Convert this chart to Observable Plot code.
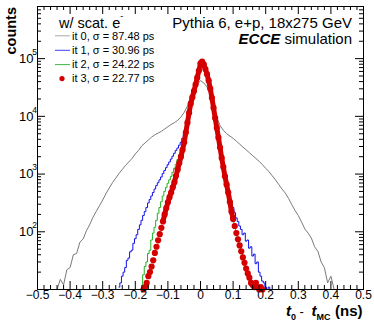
<!DOCTYPE html>
<html><head><meta charset="utf-8">
<script src="https://cdn.jsdelivr.net/npm/d3@7"></script>
<script src="https://cdn.jsdelivr.net/npm/@observablehq/plot@0.6"></script>
<style>
body{margin:0;background:#fff;}
#chart{width:374px;height:322px;}
</style></head><body><div id="chart"></div>
<script>
// ---- data ----
const xTicks = [-0.5,-0.4,-0.3,-0.2,-0.1,0,0.1,0.2,0.3,0.4,0.5];
const xTickLabels = ["\u22120.5","\u22120.4","\u22120.3","\u22120.2","\u22120.1","0","0.1","0.2","0.3","0.4","0.5"];
const yTicks = [1e2,1e3,1e4,1e5];
const yTickExp = ["2","3","4","5"];

const seriesLabels = ["it 0, \u03c3 = 87.48 ps","it 1, \u03c3 = 30.96 ps","it 2, \u03c3 = 24.22 ps","it 3, \u03c3 = 22.77 ps"];

// it 0 : bins of 0.01 ns starting at -0.44
const it0Start = -0.44, it0Width = 0.01;
const it0Counts = [10,15,12,22,24,40,42,66,75,104,
  132,178,224,282,355,457,575,708,851,1020,
  1200,1410,1620,1860,2240,2570,3090,3470,3890,4370,
  4790,5130,5500,6030,6610,7240,7760,8510,9770,11700,
  15100,20900,27500,35500,
  41700,38000,32400,24000,15800,9550,6920,5750,5010,4570,
  4170,3720,3310,2950,2630,2340,2090,1860,1660,1450,
  1260,1100,933,794,661,550,468,380,295,234,
  191,148,112,95,78,55,46,30,24,13,17,10];

// it 1 : bins of 0.005 ns starting at -0.25
const it1Start = -0.25, it1Width = 0.005;
const it1Counts = [11,13,17,20,24,32,35,45,48,63,
  76,89,110,132,158,191,224,263,316,363,
  417,479,550,631,708,794,891,1020,1150,1290,
  1450,1620,1820,2040,2290,2570,2820,3160,3550,4170,
  5010,6310,8320,11200,15800,20900,26900,33900,43600,56200,
  72400,79400,72400,60300,49000,38000,28200,20000,13500,9120,
  6310,4370,3020,2040,1450,1020,759,575,427,331,
  263,214,174,151,126,110,89,95,69,72,
  52,55,38,41,28,30,20,17,14,13,
  11,10,11,10];

// it 2 : bins of 0.005 ns starting at -0.18
const it2Start = -0.18, it2Width = 0.005;
const it2Counts = [10,18,25,30,42,48,72,95,120,158,
  209,263,331,417,501,589,692,794,912,1070,
  1260,1480,1780,2140,2630,3310,4170,5750,8130,11700,
  16600,21400,27500,35500,46800,60300,
  80000,85000,77600,64600,52500,40700,29500,20400,13800,9330,
  6310,4270,2880,1950,1350,933,676,490,347,240,
  178,135,105,81,63,50,40,32,25,20,
  17,14,12,11,10];

// it 3 : bins of 0.005 ns starting at -0.175
const it3Start = -0.175, it3Width = 0.005;
const it3Counts = [10,11,13,17,20,25,32,43,55,71,
  91,117,151,200,257,324,398,479,589,724,
  933,1200,1550,2000,2630,3550,5250,7760,11500,16600,
  21400,27500,35500,46800,61700,
  83000,89000,79400,66100,53700,41700,30200,20900,14100,9330,
  6310,4270,2880,1900,1320,912,661,479,331,224,
  166,126,95,74,58,46,36,29,23,19,
  16,13,12,11,13,11,10,11,10];

// ---- build tables ----
const bins = (start, step, counts) => counts.map((c, i) => ({t: +(start + i * step).toFixed(4), c}));
const s0 = bins(it0Start, it0Width, it0Counts);
const s1 = bins(it1Start, it1Width, it1Counts);
const s2 = bins(it2Start, it2Width, it2Counts);
const s3 = bins(it3Start, it3Width, it3Counts);

const colors = ["#7a7a7a", "#1010f0", "#22b022", "#d40000"];

const W = 374, H = 322, ml = 37, mr = 11, mt = 6, mb = 33;
const fw = W - ml - mr, fh = H - mt - mb;
const xMinor = d3.range(-25, 26).filter(i => i % 5 !== 0).map(i => i / 50);
const yMinor = [];
for (let n = 1; n <= 5; n++) for (let k = 2; k <= 9; k++) { const v = k * 10 ** n; if (v <= 8e5) yMinor.push(v); }

const chart = Plot.plot({
  width: W, height: H,
  marginLeft: ml, marginRight: mr, marginTop: mt, marginBottom: mb,
  style: {fontFamily: "'Liberation Sans', Arial, sans-serif", background: "white"},
  x: {domain: [-0.5, 0.5], axis: null},
  y: {type: "log", domain: [10, 8e5], axis: null},
  marks: [
    Plot.line(s0, {x: "t", y: "c", stroke: colors[0], strokeWidth: 1}),
    Plot.line(s1, {x: "t", y: "c", stroke: colors[1], strokeWidth: 1, curve: "step"}),
    Plot.line(s2, {x: "t", y: "c", stroke: colors[2], strokeWidth: 1, curve: "step"}),
    Plot.line(s3.filter(d => d.c >= 150), {x: "t", y: "c", stroke: colors[3], strokeWidth: 5, strokeLinejoin: "round"}),
    Plot.dot(s3, {x: "t", y: "c", r: 3.1, fill: colors[3], stroke: "none"}),
    // ticks
    Plot.ruleX(xTicks, {x: d => d, insetTop: fh - 8, stroke: "black"}),
    Plot.ruleX(xMinor, {x: d => d, insetTop: fh - 4, stroke: "black"}),
    Plot.ruleX(xTicks, {x: d => d, insetBottom: fh - 8, stroke: "black"}),
    Plot.ruleX(xMinor, {x: d => d, insetBottom: fh - 4, stroke: "black"}),
    Plot.ruleY(yTicks, {y: d => d, insetRight: fw - 8, stroke: "black"}),
    Plot.ruleY(yMinor, {y: d => d, insetRight: fw - 4, stroke: "black"}),
    Plot.ruleY(yTicks, {y: d => d, insetLeft: fw - 8, stroke: "black"}),
    Plot.ruleY(yMinor, {y: d => d, insetLeft: fw - 4, stroke: "black"}),
    Plot.frame({stroke: "black", strokeWidth: 1}),
    // tick labels
    Plot.text(xTicks, {x: d => d, frameAnchor: "bottom", text: (d, i) => xTickLabels[i], dy: 9, fontSize: 12}),
    Plot.text(yTicks, {y: d => d, frameAnchor: "left", text: () => "10", textAnchor: "end", dx: -4, fontSize: 13}),
    Plot.text(yTicks, {y: d => d, frameAnchor: "left", text: (d, i) => yTickExp[i], textAnchor: "end", dx: -0.5, dy: -6.5, fontSize: 8.5})
  ]
});
document.getElementById("chart").appendChild(chart);

// ---- annotations / legend ----
const svg = d3.select(chart);
const g = svg.append("g").attr("font-family", "'Liberation Sans', Arial, sans-serif")
  .attr("fill", "black").attr("text-anchor", "start");

// y title
g.append("text").attr("transform", "translate(15.5,7) rotate(-90)")
  .attr("text-anchor", "end").attr("font-weight", "bold").attr("font-size", 14.5).text("counts");

// x title
const xt = g.append("text").attr("font-weight", "bold").attr("font-size", 15);
xt.append("tspan").attr("x", 286).attr("y", 316).attr("font-style", "italic").text("t");
xt.append("tspan").attr("x", 291).attr("y", 319.5).attr("font-size", 9).text("0");
xt.append("tspan").attr("x", 299.5).attr("y", 316).attr("font-weight", "normal").attr("font-size", 13).text("-");
xt.append("tspan").attr("x", 311.5).attr("y", 316).attr("font-style", "italic").text("t");
xt.append("tspan").attr("x", 316.5).attr("y", 319.5).attr("font-size", 9).text("MC");
xt.append("tspan").attr("x", 335).attr("y", 316).text("(ns)");

// header left
const hl = g.append("text").attr("x", 59).attr("y", 28).attr("font-size", 14.5);
hl.append("tspan").text("w/ scat. e");
hl.append("tspan").attr("dy", -9.5).attr("font-size", 9).text("-");

// header right
g.append("text").attr("x", 352).attr("y", 28).attr("text-anchor", "end").attr("font-size", 15)
  .text("Pythia 6, e+p, 18x275 GeV");
const hr = g.append("text").attr("x", 352).attr("y", 44.3).attr("text-anchor", "end").attr("font-size", 15);
hr.append("tspan").attr("font-weight", "bold").attr("font-style", "italic").text("ECCE");
hr.append("tspan").text(" simulation");

// legend entries
const rows = [39.5, 54, 68.3, 82.3];
const legendColors = ["#a8a8a8", "#4040f0", "#40b840", colors[3]];
rows.forEach((yb, i) => {
  const yc = yb - 3.7;
  if (i < 3) {
    g.append("line").attr("x1", 55).attr("x2", 70).attr("y1", yc).attr("y2", yc)
      .attr("stroke", legendColors[i]).attr("stroke-width", 1);
  } else {
    g.append("circle").attr("cx", 62).attr("cy", yc).attr("r", 2.6).attr("fill", legendColors[i]);
  }
  g.append("text").attr("x", 72).attr("y", yb).attr("font-size", 11).text(seriesLabels[i]);
});
</script></body></html>
